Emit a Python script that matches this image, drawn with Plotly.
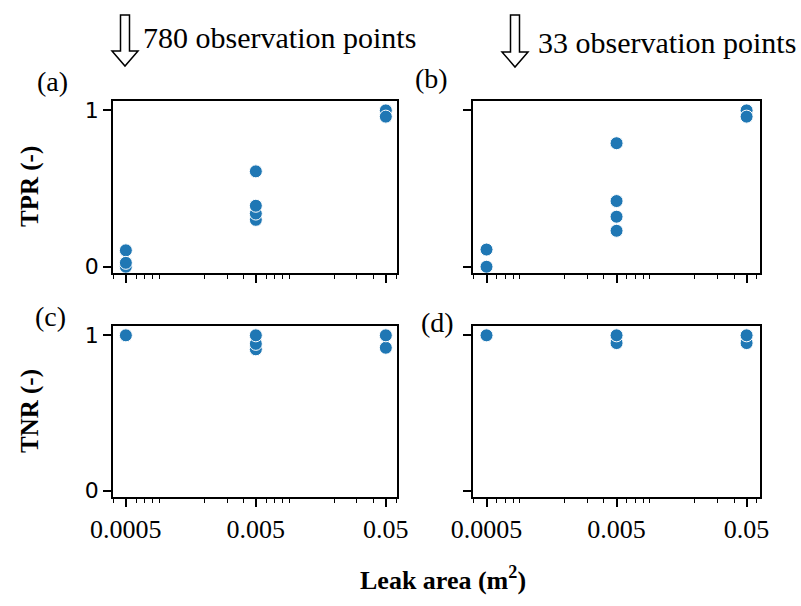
import plotly.graph_objects as go

# ---------------- data ----------------
area_levels = [0.0005, 0.005, 0.05]
x_tick_vals = [0.0005, 0.005, 0.05]
x_tick_text = ["0.0005", "0.005", "0.05"]
x_minor_vals = [0.0004, 0.0006, 0.0007, 0.0008, 0.0009,
                0.002, 0.003, 0.004, 0.006, 0.007, 0.008, 0.009,
                0.02, 0.03, 0.04, 0.06]
y_tick_vals = [0, 1]
y_tick_text = ["0", "1"]

# values per leak area (draw order kept: later points drawn on top)
tpr_780 = [[0.0, 0.105, 0.025], [0.30, 0.34, 0.39, 0.61], [1.0, 0.96]]
tpr_33 = [[0.11, 0.0], [0.23, 0.32, 0.42, 0.79], [1.0, 0.96]]
tnr_780 = [[1.0], [0.91, 0.945, 1.0], [0.92, 1.0]]
tnr_33 = [[1.0], [0.95, 1.0], [0.95, 1.0]]

panel_labels = ["(a)", "(b)", "(c)", "(d)"]
header_texts = ["780 observation points", "33 observation points"]
y_titles = ["TPR (-)", "TNR (-)"]
x_title = "Leak area (m<sup>2</sup>)"

W, H = 801, 606
BLUE = "#1f77b4"


def px(x):
    return x / W


def py(y):
    return 1 - y / H


def flatten(groups):
    xs, ys = [], []
    for lvl, vals in zip(area_levels, groups):
        for v in vals:
            xs.append(lvl)
            ys.append(v)
    return xs, ys


fig = go.Figure()

panels = [
    (tpr_780, "x", "y"),
    (tpr_33, "x2", "y2"),
    (tnr_780, "x3", "y3"),
    (tnr_33, "x4", "y4"),
]
for data, xa, ya in panels:
    xs, ys = flatten(data)
    fig.add_trace(go.Scatter(
        x=xs, y=ys, mode="markers", xaxis=xa, yaxis=ya,
        marker=dict(size=13, color=BLUE, line=dict(color="white", width=1)),
        showlegend=False, cliponaxis=False,
    ))

# domains (pixel boxes)
boxes = {
    1: (113, 397, 101, 273),
    2: (473, 760, 101, 273),
    3: (113, 397, 326, 497),
    4: (473, 760, 326, 497),
}
xranges = {1: [-3.40, -1.215], 2: [-3.405, -1.198], 3: [-3.40, -1.215], 4: [-3.405, -1.198]}

layout = dict(
    width=W, height=H, margin=dict(l=0, r=0, t=0, b=0, autoexpand=False),
    paper_bgcolor="white", plot_bgcolor="white",
)
for i, (x0, x1, y0, y1) in boxes.items():
    suf = "" if i == 1 else str(i)
    layout["xaxis" + suf] = dict(
        type="log", domain=[px(x0), px(x1)], range=xranges[i],
        anchor="y" + suf, automargin=False,
        showline=True, mirror=True, linecolor="black", linewidth=1.5,
        showgrid=False, zeroline=False,
        ticks="outside", ticklen=8, tickwidth=1.5, tickcolor="black",
        tickmode="array", tickvals=x_tick_vals, ticktext=x_tick_text,
        showticklabels=(i >= 3),
        tickfont=dict(family="Liberation Serif", size=26, color="black"),
        minor=dict(tickmode="array", tickvals=x_minor_vals, ticks="outside",
                   ticklen=4.5, tickwidth=1.2, tickcolor="black", showgrid=False),
    )
    layout["yaxis" + suf] = dict(
        domain=[py(y1), py(y0)], range=[-0.04, 1.06],
        anchor="x" + suf, automargin=False,
        showline=True, mirror=True, linecolor="black", linewidth=1.5,
        showgrid=False, zeroline=False,
        ticks="outside", ticklen=8, tickwidth=1.5, tickcolor="black",
        tickmode="array", tickvals=y_tick_vals, ticktext=y_tick_text,
        showticklabels=(i in (1, 3)),
        tickfont=dict(family="DejaVu Sans", size=22, color="black"),
    )
fig.update_layout(**layout)

serif = "Liberation Serif"
ann = []
# panel letters
for txt, (cx, cy) in zip(panel_labels, [(53, 81), (431, 78), (50, 316), (437, 322)]):
    ann.append(dict(text=txt, x=px(cx), y=py(cy), xref="paper", yref="paper",
                    showarrow=False, xanchor="center", yanchor="middle",
                    font=dict(family=serif, size=28, color="black")))
# headers
for txt, (lx, cy) in zip(header_texts, [(141, 37), (536, 42)]):
    ann.append(dict(text=txt, x=px(lx), y=py(cy), xref="paper", yref="paper",
                    showarrow=False, xanchor="left", yanchor="middle",
                    font=dict(family=serif, size=30, color="black")))
# y titles
for txt, cy in zip(y_titles, [187, 411]):
    ann.append(dict(text="<b>" + txt + "</b>", x=px(30), y=py(cy), xref="paper", yref="paper",
                    showarrow=False, xanchor="center", yanchor="middle", textangle=-90,
                    font=dict(family=serif, size=25, color="black")))
# x title
ann.append(dict(text="<b>" + x_title + "</b>", x=px(443), y=py(578), xref="paper", yref="paper",
                showarrow=False, xanchor="center", yanchor="middle",
                font=dict(family=serif, size=26, color="black")))
fig.update_layout(annotations=ann)


# hollow down arrows (decoration)
def arrow_path(cx, top, head_y, tip, shaft_w=9, head_w=26):
    pts = [
        (cx - shaft_w / 2, top), (cx + shaft_w / 2, top), (cx + shaft_w / 2, head_y),
        (cx + head_w / 2, head_y), (cx, tip), (cx - head_w / 2, head_y),
        (cx - shaft_w / 2, head_y),
    ]
    d = "M " + " L ".join(f"{px(a):.5f},{py(b):.5f}" for a, b in pts) + " Z"
    return d


shapes = []
for cx, top, hy, tip in [(125, 15, 51, 66), (515, 15, 52, 67)]:
    shapes.append(dict(type="path", path=arrow_path(cx, top, hy, tip), xref="paper", yref="paper",
                       line=dict(color="black", width=1.5), fillcolor="white"))
fig.update_layout(shapes=shapes)

fig.write_html("out.html")
